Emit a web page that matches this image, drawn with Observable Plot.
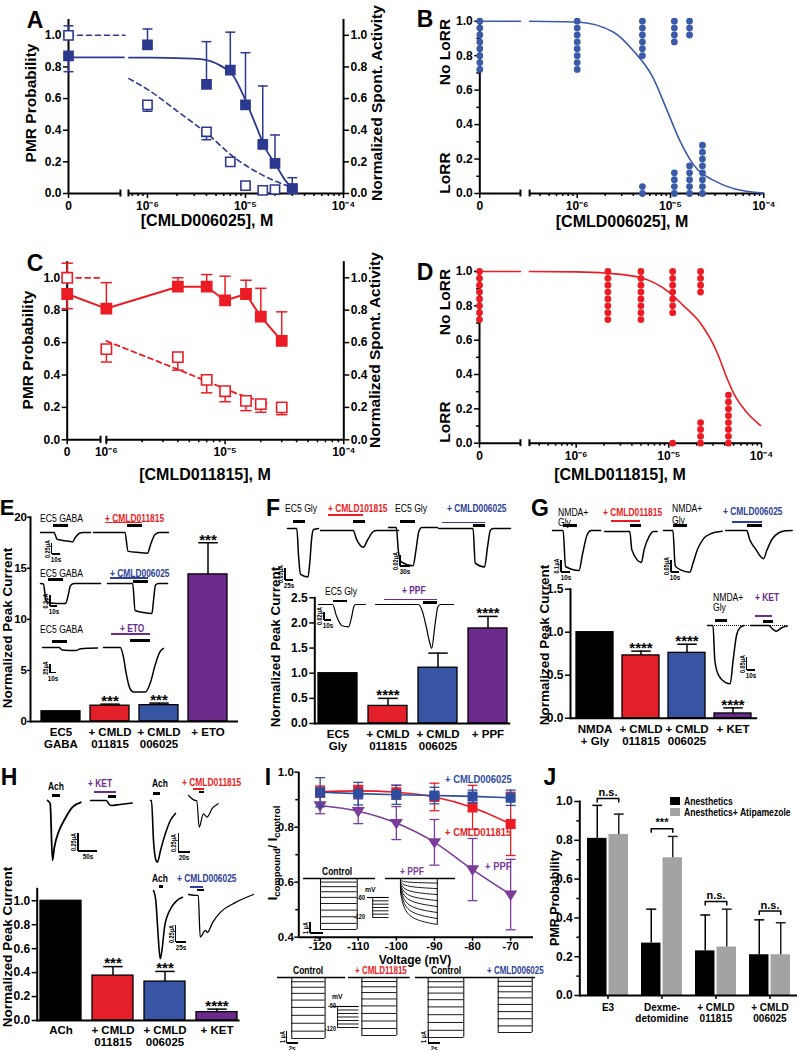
<!DOCTYPE html>
<html><head><meta charset="utf-8">
<script src="https://cdn.jsdelivr.net/npm/d3@7"></script>
<script src="https://cdn.jsdelivr.net/npm/@observablehq/plot@0.6"></script>
<style>
html,body{margin:0;padding:0;background:#fff;}
#root{position:relative;width:797px;height:1050px;overflow:hidden;background:#fff;font-family:'Liberation Sans',Arial,Helvetica,sans-serif;}
#root svg{overflow:visible;}
</style></head><body><div id="root"></div>
<script>
// ======================= DATA =======================
// Panel A (CMLD006025): PMR probability (filled) and normalized spontaneous activity (open)
const aConc = [0, 1e-6, 4e-6, 7e-6, 1e-5, 1.5e-5, 2e-5, 3e-5];
const aPMR = [0.87, 0.94, 0.69, 0.78, 0.56, 0.31, 0.19, 0.03];
const aPMRErr = [0.77, 1.04, 0.96, 1.02, 0.89, 0.68, 0.37, 0.10];
const aSpont = [1.0, 0.56, 0.39, 0.20, 0.05, 0.02, 0.025, 0.03];
const aSpontErr = [1.06, 0.52, 0.34, 0.19, null, null, null, null];
const aFitPMRTop = 0.86;
const aFitPMR = [[-6.19,0.859],[-5.8,0.858],[-5.46,0.85],[-5.26,0.81],[-5.12,0.74],[-5.0,0.59],[-4.9,0.44],[-4.8,0.29],[-4.69,0.18],[-4.59,0.08],[-4.52,0.035]];
const aFitSpontTop = 1.0;
const aFitSpont = [[-6.19,0.726],[-6.0,0.658],[-5.66,0.504],[-5.39,0.378],[-5.12,0.23],[-4.85,0.124],[-4.58,0.05]];

// Panel B (CMLD006025): individual fish, LoRR (0) / no LoRR (1), stacked
const bConc = [0, 1e-6, 5e-6, 1.1e-5, 1.6e-5, 2.2e-5];
const bFish = [
  [1,.96,.92,.88,.84,.80,.76,.72],
  [1,.96,.92,.88,.84,.80,.76,.72],
  [1,.96,.92,.88,.84,.80,0,.04],
  [1,.96,.92,.88,0,.04,.08,.12],
  [1,.96,.92,0,.04,.08,.12,.16],
  [0,.04,.08,.12,.16,.20,.24,.28]];
const bFitTop = 1.0;
const bFit = [[-6.51,1.0],[-6.0,0.995],[-5.61,0.936],[-5.40,0.83],[-5.19,0.675],[-5.05,0.5],[-4.9,0.307],[-4.76,0.172],[-4.5,0.066],[-4.32,0.027],[-4.0,0.002]];

// Panel C (CMLD011815)
const cConc = [0, 1e-6, 4e-6, 7e-6, 1e-5, 1.5e-5, 2e-5, 3e-5];
const cPMR = [0.90, 0.81, 0.945, 0.945, 0.86, 0.90, 0.76, 0.61];
const cPMRErr = [0.81, 0.97, 1.0, 1.02, 1.01, 0.985, 0.935, 0.79];
const cSpont = [1.0, 0.56, 0.51, 0.37, 0.30, 0.24, 0.22, 0.20];
const cSpontErr = [1.09, 0.48, 0.43, 0.29, 0.235, 0.18, 0.17, 0.155];
const cFitSpontTop = 1.0;
const cFitSpont = [[-6.0,0.61],[-5.4,0.435],[-5.15,0.36],[-4.9,0.285],[-4.65,0.225]];

// Panel D (CMLD011815)
const dConc = [0, 2.2e-6, 5e-6, 1.1e-5, 2.2e-5, 4.4e-5];
const dFish = [
  [1,.96,.92,.88,.84,.80,.76,.72],
  [1,.96,.92,.88,.84,.80,.76,.72],
  [1,.96,.92,.88,.84,.80,.76,.72],
  [1,.96,.92,.88,.84,.80,.76,0],
  [1,.96,.92,.88,0,.04,.08,.12],
  [0,.04,.08,.12,.16,.20,.24,.28]];
const dFitTop = 1.0;
const dFit = [[-6.504,1.0],[-6.0,0.998],[-5.67,0.99],[-5.31,0.965],[-5.0,0.88],[-4.84,0.8],[-4.66,0.70],[-4.48,0.53],[-4.37,0.375],[-4.3,0.29],[-4.16,0.18],[-4.01,0.103]];

// Panels E-H: normalized peak currents
const eLabels = ["EC5\nGABA", "+ CMLD\n011815", "+ CMLD\n006025", "+ ETO"];
const eVals = [1.0, 1.55, 1.6, 14.4];
const eErr = [null, 1.7, 1.8, 17.5];
const eStars = ["", "***", "***", "***"];
const fLabels = ["EC5\nGly", "+ CMLD\n011815", "+ CMLD\n006025", "+ PPF"];
const fVals = [1.0, 0.35, 1.11, 1.89];
const fErr = [null, 0.5, 1.40, 2.13];
const fStars = ["", "****", "", "****"];
const gLabels = ["NMDA\n+ Gly", "+ CMLD\n011815", "+ CMLD\n006025", "+ KET"];
const gVals = [1.0, 0.73, 0.76, 0.055];
const gErr = [null, 0.78, 0.86, 0.12];
const gStars = ["", "****", "****", "****"];
const hLabels = ["ACh", "+ CMLD\n011815", "+ CMLD\n006025", "+ KET"];
const hVals = [1.0, 0.375, 0.325, 0.07];
const hErr = [null, 0.45, 0.41, 0.095];
const hStars = ["", "***", "***", "****"];

// Panel I: I compound / I control vs voltage
const iV = [-120, -110, -100, -90, -80, -70];
const i006025 = [0.927, 0.922, 0.918, 0.915, 0.912, 0.907];
const i006025Err = [0.053, 0.041, 0.035, 0.030, 0.023, 0.028];
const i011815 = [0.930, 0.932, 0.927, 0.910, 0.872, 0.812];
const i011815Err = [0.02, 0.02, 0.025, 0.05, 0.08, 0.115];
const iPPF = [0.879, 0.858, 0.815, 0.745, 0.646, 0.555];
const iPPFErr = [0.03, 0.045, 0.06, 0.083, 0.113, 0.128];

// Panel J: PMR probability
const jGroups = ["E3", "Dexme-\ndetomidine", "+ CMLD\n011815", "+ CMLD\n006025"];
const jAnes = [0.81, 0.27, 0.23, 0.21];
const jAnesErr = [0.98, 0.445, 0.415, 0.39];
const jAtip = [0.83, 0.71, 0.25, 0.21];
const jAtipErr = [0.935, 0.82, 0.445, 0.375];
const jSig = ["n.s.", "***", "n.s.", "n.s."];
const jSigLevel = [1.015, 0.86, 0.485, 0.435];

// Example current traces (time fraction, depth fraction)
const trE1a = [[0,0],[0.27,0],[0.33,0.7],[0.45,0.85],[0.6,0.95],[0.64,1],[0.7,0.5],[0.78,0.08],[0.85,0],[1,0]];
const trE1b = [[0,0],[0.42,0],[0.46,0.9],[0.6,0.97],[0.72,1],[0.76,0.6],[0.82,0.1],[0.88,0],[1,0]];
const trE2a = [[0,0],[0.05,0.02],[0.09,0.85],[0.15,0.97],[0.42,1],[0.46,0.6],[0.5,0.1],[0.56,0],[1,0]];
const trE2b = [[0,0],[0.42,0],[0.46,0.9],[0.6,0.97],[0.74,1],[0.77,0.5],[0.8,0.05],[0.85,0],[1,0]];
const trE3a = [[0,0],[0.3,0],[0.36,0.8],[0.6,1],[0.7,0.4],[0.85,0.25],[1,0.2]];
const trE3b = [[0,0],[0.28,0],[0.33,0.2],[0.38,0.6],[0.44,0.92],[0.5,1],[0.7,1],[0.78,0.8],[0.86,0.4],[0.94,0.1],[1,0.02]];
const trF1a = [[0,0],[0.3,0],[0.36,0.6],[0.42,0.95],[0.66,1],[0.72,0.7],[0.78,0.2],[0.84,0.02],[1,0]];
const trF1b = [[0,0],[0.42,0],[0.46,0.5],[0.55,1],[0.6,0.6],[0.68,0.05],[0.72,0],[1,0]];
const trF1c = [[0,0],[0.16,0],[0.2,0.6],[0.26,0.9],[0.5,1],[0.56,0.6],[0.62,0.1],[0.68,0],[1,0]];
const trF1d = [[0,0],[0.48,0],[0.51,0.9],[0.64,1],[0.68,0.5],[0.72,0.05],[0.76,0],[1,0]];
const trF2a = [[0,0],[0.3,0],[0.38,0.5],[0.5,0.95],[0.64,1],[0.7,0.6],[0.76,0.05],[0.8,0],[1,0]];
const trF2b = [[0,0],[0.55,0],[0.6,0.15],[0.65,0.5],[0.7,0.9],[0.72,1],[0.76,0.5],[0.8,0.05],[0.83,0],[1,0]];
const trG1a = [[0,0],[0.22,0],[0.27,0.9],[0.55,1],[0.62,0.6],[0.72,0.1],[0.8,0],[1,0]];
const trG1b = [[0,0],[0.48,0],[0.52,0.6],[0.7,1],[0.75,0.6],[0.85,0.15],[0.93,0],[1,0]];
const trG1c = [[0,0],[0.16,0],[0.2,0.85],[0.3,0.95],[0.45,1],[0.5,0.8],[0.58,0.45],[0.68,0.2],[0.8,0.08],[1,0.02]];
const trG1d = [[0,0],[0.32,0],[0.36,0.3],[0.45,0.65],[0.57,1],[0.62,0.7],[0.7,0.3],[0.8,0.08],[0.9,0.01],[1,0]];
const trG2a = [[0,0],[0.15,0],[0.2,0.6],[0.3,0.85],[0.5,0.98],[0.62,1],[0.7,0.6],[0.8,0.15],[0.9,0.03],[1,0]];
const trG2b = [[0,0],[0.5,0],[0.6,0.6],[0.7,1],[0.85,0.4],[1,0.1]];
const trH1a = [[0,0],[0.08,0.05],[0.15,1],[0.2,0.8],[0.35,0.5],[0.5,0.33],[0.75,0.11],[1,0.03]];
const trH1b = [[0,0],[0.38,0],[0.45,0.8],[0.5,1],[0.7,0.8],[1,0.5]];
const trH2a = [[0,0],[0.04,0],[0.12,0.65],[0.22,0.97],[0.28,1],[0.4,0.81],[0.6,0.53],[0.8,0.32],[1,0.21]];
const trH2b = [[0,0],[0.25,0.16],[0.28,0.16],[0.36,1],[0.5,0.58],[0.62,0.68],[0.8,0.41],[1,0.26]];
const trH3a = [[0,0],[0.08,0.15],[0.15,0.59],[0.23,1],[0.29,0.88],[0.39,0.51],[0.6,0.26],[0.8,0.15],[1,0.1]];
const trH3b = [[0,0],[0.13,0.02],[0.15,0.02],[0.18,1],[0.26,0.84],[0.29,0.89],[0.37,0.66],[0.49,0.42],[0.72,0.19],[1,0]];
const famLevels = [0.07,0.16,0.26,0.37,0.49,0.62,0.75,0.88,1.0];
const famPPFStart = [0.04,0.07,0.1,0.13,0.17,0.21,0.25,0.3];
const famPPFMid = [0.08,0.17,0.27,0.37,0.47,0.58,0.69,0.8];
const famPPFEnd = [0.1,0.22,0.35,0.48,0.61,0.74,0.87,1.0];
const protoSteps = [-60,-70,-80,-90,-100,-110,-120];

// ======================= HELPERS =======================
const FONT = "'Liberation Sans',Arial,Helvetica,sans-serif";
const COL = {navy:"#2b3a8f", dotBlue:"#3b5ba8", red:"#ec1c24", purple:"#6a2c8e", barRed:"#e3202a",
  barBlue:"#3854a4", barPurple:"#6b2a8c", gray:"#a3a3a3", iBlue:"#2e4d9f", iPurple:"#7b3c9c", txtBlue:"#2e3f96"};
const root = document.getElementById("root");
const STYLE = {fontFamily: FONT, fontSize: "12px", background: "transparent", overflow: "visible"};
const capSym = {draw(ctx, size){ const s = Math.sqrt(size)/2; ctx.moveTo(-s,0); ctx.lineTo(s,0); }};
const triDown = {draw(ctx, size){ const r = Math.sqrt(size/Math.PI)*1.1; ctx.moveTo(-r,-r*0.65); ctx.lineTo(r,-r*0.65); ctx.lineTo(0,r*0.95); ctx.closePath(); }};

function put(node, x, y){ node.style.position="absolute"; node.style.left=x+"px"; node.style.top=y+"px"; node.style.maxWidth="none"; root.appendChild(node); return node; }
function txt(s, x, y, o = {}){
  const d = document.createElement("div");
  if (o.html) d.innerHTML = s; else d.textContent = s;
  const a = o.anchor || "start";
  const tx = a === "start" ? "0" : a === "middle" ? "-50%" : "-100%";
  const sx = o.narrow ? ` scaleX(${o.narrow})` : "";
  Object.assign(d.style, {position:"absolute", left:x+"px", top:y+"px", fontSize:(o.size||11)+"px",
    fontWeight:o.weight||"bold", color:o.color||"#000", whiteSpace:"pre", lineHeight:"1", fontFamily:FONT});
  if (o.rotate) {
    d.style.transform = `translate(-50%,-50%) rotate(${o.rotate}deg)` + sx;
    d.style.transformOrigin = "50% 50%";
  } else {
    d.style.transform = `translate(${tx},-50%)` + sx;
    d.style.transformOrigin = a === "start" ? "0 0" : a === "middle" ? "50% 0" : "100% 0";
  }
  root.appendChild(d); return d;
}
function hl(x1, x2, y, color = "#000", t = 1.5, style){
  const d = document.createElement("div");
  Object.assign(d.style, {position:"absolute", left:x1+"px", top:(y-t/2)+"px", width:(x2-x1)+"px", height:t+"px", background:color});
  if (style === "dotted") { d.style.background = "none"; d.style.borderTop = `1px dotted ${color}`; d.style.height = "0"; }
  root.appendChild(d);
}
function vl(x, y1, y2, color = "#000", t = 1.2){
  const d = document.createElement("div");
  Object.assign(d.style, {position:"absolute", left:(x-t/2)+"px", top:y1+"px", width:t+"px", height:(y2-y1)+"px", background:color});
  root.appendChild(d);
}
function sbar(x, y1, y2, x2, vLab, hLab){
  vl(x, y1, y2); hl(x, x2, y2, "#000", 1.2);
  txt(vLab, x-4, (y1+y2)/2, {size:6.5, rotate:-90, narrow:0.85});
  txt(hLab, (x+x2)/2, y2+5, {size:7, anchor:"middle", narrow:0.9});
}
function trace(pts, x, y, w, h, color = "#000", sw = 1.5){
  const p = Plot.plot({width:w+6, height:h+6, marginTop:3, marginBottom:3, marginLeft:3, marginRight:3,
    x:{domain:[0,1], axis:null}, y:{domain:[0,1], range:[3,h+3], axis:null}, style:STYLE,
    marks:[Plot.line(pts, {x:d=>d[0], y:d=>d[1], stroke:color, strokeWidth:sw, curve:"monotone-x"})]});
  put(p, x-3, y-3);
}
function stepFamily(levels, x, y, w, h, t0, t1){
  const mx = d3.max(levels);
  const p = Plot.plot({width:w+6, height:h+6, margin:3,
    x:{domain:[0,1], axis:null}, y:{domain:[0,1], range:[3,h+3], axis:null}, style:STYLE,
    marks:[
      Plot.ruleY([0], {x1:0, x2:1, strokeWidth:1.3}),
      Plot.ruleX([t0], {y1:0, y2:mx, strokeWidth:1}),
      Plot.ruleX([t1], {y1:0, y2:mx, strokeWidth:1}),
      Plot.ruleY(levels, {y:d=>d, x1:t0, x2:t1, strokeWidth:0.9})
    ]});
  put(p, x-3, y-3);
}
function curveFamily(s, m, e, x, y, w, h, t0, t1){
  const tm = t0 + 0.25*(t1-t0);
  const rows = [];
  s.forEach((v,i) => rows.push({z:i, t:t0, v:s[i]}, {z:i, t:tm, v:m[i]}, {z:i, t:t1, v:e[i]}));
  const p = Plot.plot({width:w+6, height:h+6, margin:3,
    x:{domain:[0,1], axis:null}, y:{domain:[0,1], range:[3,h+3], axis:null}, style:STYLE,
    marks:[
      Plot.ruleY([0], {x1:0, x2:1, strokeWidth:1.3}),
      Plot.ruleX([t0], {y1:0, y2:d3.max(s), strokeWidth:1}),
      Plot.ruleX([t1], {y1:0, y2:d3.max(e), strokeWidth:1}),
      Plot.line(rows, {x:"t", y:"v", z:"z", curve:"natural", strokeWidth:0.9})
    ]});
  put(p, x-3, y-3);
}
function protocol(steps, x, y, w, h, xs){
  const p = Plot.plot({width:w+6, height:h+6, margin:3,
    x:{domain:[0,1], axis:null}, y:{domain:[steps[0], steps[steps.length-1]], range:[3,h+3], axis:null}, style:STYLE,
    marks:[
      Plot.ruleY(steps, {y:d=>d, x1:xs, x2:1, strokeWidth:0.9}),
      Plot.ruleY([steps[0]], {x1:0, x2:1, strokeWidth:1.1}),
      Plot.ruleX([xs], {y1:steps[0], y2:steps[steps.length-1], strokeWidth:0.9})
    ]});
  put(p, x-3, y-3);
}

// Dose-response panels with broken log axis
function dose(o){
  const X = c => c === 0 ? o.zero : Math.log10(c);
  const SUP = {"-6":"⁻⁶", "-5":"⁻⁵", "-4":"⁻⁴"};
  const minor = [];
  for (let e = -7; e < -4; e++) for (let k = 2; k < 10; k++) { const v = e + Math.log10(k); if (v > o.brkR + 0.02 && v < -4) minor.push(v); }
  const ax = {fontSize:12, fontWeight:"bold", label:null, strokeWidth:1.5};
  const marks = [
    Plot.ruleX([o.zero], {y1:0, y2:o.yTop, strokeWidth:2}),
    Plot.ruleY([[o.zero, o.brkL], [o.brkR, -4]], {x1:d=>d[0], x2:d=>d[1], y:()=>0, strokeWidth:2}),
    Plot.ruleX([o.brkL, o.brkR], {y1:-o.bt, y2:o.bt, strokeWidth:2}),
    Plot.axisY({...ax, anchor:"left", ticks:o.yTicks, tickFormat:d3.format(".1f"), tickSize:5, tickPadding:2}),
    Plot.axisX({...ax, anchor:"bottom", ticks:[o.zero, -6, -5, -4], tickFormat:d => d === o.zero ? "0" : "10" + SUP[d], tickSize:5, tickPadding:3}),
    Plot.axisX({...ax, anchor:"bottom", ticks:minor, tickSize:3, tickFormat:() => ""})
  ];
  if (o.yMinor) marks.push(Plot.axisY({...ax, anchor:"left", ticks:o.yMinor, tickSize:3, tickFormat:() => ""}));
  if (o.right) marks.push(
    Plot.ruleX([-4], {y1:0, y2:o.yTop, strokeWidth:2}),
    Plot.axisY({...ax, anchor:"right", ticks:o.yTicks, tickFormat:d3.format(".1f"), tickSize:5, tickPadding:2}));
  marks.push(...o.marks(X));
  const p = Plot.plot({width:o.w, height:o.h, marginLeft:o.ml, marginRight:o.mr, marginTop:o.mt, marginBottom:o.mb,
    x:{type:"linear", domain:[o.zero, -4]}, y:{domain:[0, o.yTop]}, style:STYLE, marks});
  put(p, o.left, o.top);
}

function pmrMarks(X, conc, pmr, pmrErr, spont, spontErr, color, sq, capR){
  const rows = conc.map((c,i) => ({x:X(c), p:pmr[i], pe:pmrErr[i], s:spont[i], se:spontErr[i]}));
  const se = rows.filter(r => r.se != null);
  return [
    Plot.ruleX(rows, {x:"x", y1:"p", y2:"pe", stroke:color, strokeWidth:1.5}),
    Plot.dot(rows, {x:"x", y:"pe", symbol:capSym, r:capR, stroke:color, strokeWidth:1.5}),
    Plot.ruleX(se, {x:"x", y1:"s", y2:"se", stroke:color, strokeWidth:1.5}),
    Plot.dot(se, {x:"x", y:"se", symbol:capSym, r:capR, stroke:color, strokeWidth:1.5}),
    Plot.dot(rows, {x:"x", y:"s", symbol:"square", r:sq, fill:"white", stroke:color, strokeWidth:1.6}),
    Plot.dot(rows, {x:"x", y:"p", symbol:"square", r:sq, fill:color, stroke:color})
  ];
}
function fishMarks(X, conc, fish, color){
  const pts = [];
  conc.forEach((c,i) => fish[i].forEach(v => pts.push({x:X(c), y:v})));
  return Plot.dot(pts, {x:"x", y:"y", r:3.4, fill:color});
}

// Bar panels
function bars(o){
  const data = o.labels.map((l,i) => ({l, v:o.vals[i], e:o.errs[i], s:o.stars[i], c:o.colors[i]}));
  const E = data.filter(d => d.e != null);
  const p = Plot.plot({width:o.w, height:o.h, marginLeft:o.ml, marginRight:o.mr, marginTop:o.mt, marginBottom:o.mb,
    x:{domain:o.labels, paddingInner:o.pi, paddingOuter:o.po, align:0.5},
    y:{domain:o.yDomain}, color:{type:"identity"}, style:STYLE,
    marks:[
      Plot.barY(data, {x:"l", y:"v", fill:d => d.c, stroke:"#000", strokeWidth:1.3}),
      Plot.ruleX(E, {x:"l", y1:"v", y2:"e", strokeWidth:1.5}),
      Plot.dot(E, {x:"l", y:"e", symbol:capSym, r:11, stroke:"#000", strokeWidth:1.5}),
      Plot.text(data.filter(d => d.s), {x:"l", y:d => d.e ?? d.v, text:"s", dy:-3, fontSize:15, fontWeight:"bold"}),
      Plot.ruleY([0], {strokeWidth:2}),
      Plot.frame({anchor:"left", strokeWidth:2}),
      Plot.axisY({anchor:"left", ticks:o.yTicks, tickFormat:o.fmt, tickSize:o.ts ?? 5, tickPadding:o.tpad ?? 2, fontSize:o.yfs ?? 12, fontWeight:"bold", label:null, strokeWidth:1.5}),
      Plot.axisX({anchor:"bottom", tickSize:0, tickPadding:o.tp || 6, fontSize:11.5, fontWeight:"bold", label:null, lineHeight:1.05})
    ]});
  put(p, o.left, o.top);
}
const barColors = ["#000000", COL.barRed, COL.barBlue, COL.barPurple];
const f1 = d3.format(".1f");

// ======================= PANELS =======================
// A
dose({left:0, top:0, w:400, h:250, ml:68, mr:57, mt:19, mb:57, zero:-6.806, brkL:-6.276, brkR:-6.194, bt:0.022,
  yTop:1.1, yTicks:[0,.2,.4,.6,.8,1], right:true,
  marks: X => [
    Plot.line([[-6.806, aFitPMRTop], [-6.24, aFitPMRTop]], {x:d=>d[0], y:d=>d[1], stroke:COL.navy, strokeWidth:1.8}),
    Plot.line(aFitPMR, {x:d=>d[0], y:d=>d[1], stroke:COL.navy, strokeWidth:1.8, curve:"monotone-x"}),
    Plot.line([[-6.806, aFitSpontTop], [-6.23, aFitSpontTop]], {x:d=>d[0], y:d=>d[1], stroke:COL.navy, strokeWidth:1.6, strokeDasharray:"5,4"}),
    Plot.line(aFitSpont, {x:d=>d[0], y:d=>d[1], stroke:COL.navy, strokeWidth:1.6, strokeDasharray:"5,4", curve:"monotone-x"}),
    ...pmrMarks(X, aConc, aPMR, aPMRErr, aSpont, aSpontErr, COL.navy, 5.2, 5.6)
  ]});
// B
dose({left:400, top:0, w:397, h:250, ml:79.3, mr:33.7, mt:20.7, mb:57, zero:-7.044, brkL:-6.608, brkR:-6.51, bt:0.02,
  yTop:1.0, yTicks:[0,.2,.4,.6,.8,1], yMinor:[.1,.3,.5,.7,.9], right:false,
  marks: X => [
    Plot.line([[-7.044, bFitTop], [-6.608, bFitTop]], {x:d=>d[0], y:d=>d[1], stroke:COL.dotBlue, strokeWidth:1.6}),
    Plot.line(bFit, {x:d=>d[0], y:d=>d[1], stroke:COL.dotBlue, strokeWidth:1.6, curve:"monotone-x"}),
    fishMarks(X, bConc, bFish, COL.dotBlue)
  ]});
// C
dose({left:0, top:250, w:400, h:250, ml:66.7, mr:56.7, mt:11.1, mb:60.7, zero:-6.33, brkL:-6.049, brkR:-6.0, bt:0.022,
  yTop:1.1, yTicks:[0,.2,.4,.6,.8,1], right:true,
  marks: X => [
    Plot.line(cConc.map((c,i) => [X(c), cPMR[i]]), {x:d=>d[0], y:d=>d[1], stroke:COL.red, strokeWidth:2}),
    Plot.line([[-6.33, cFitSpontTop], [-6.06, cFitSpontTop]], {x:d=>d[0], y:d=>d[1], stroke:COL.red, strokeWidth:1.8, strokeDasharray:"5,4"}),
    Plot.line(cFitSpont, {x:d=>d[0], y:d=>d[1], stroke:COL.red, strokeWidth:1.8, strokeDasharray:"5,4"}),
    ...pmrMarks(X, cConc, cPMR, cPMRErr, cSpont, cSpontErr, COL.red, 5.8, 6.4)
  ]});
// D
dose({left:400, top:250, w:397, h:250, ml:79, mr:36, mt:21, mb:57.3, zero:-7.043, brkL:-6.601, brkR:-6.504, bt:0.02,
  yTop:1.0, yTicks:[0,.2,.4,.6,.8,1], yMinor:[.1,.3,.5,.7,.9], right:false,
  marks: X => [
    Plot.line([[-7.043, dFitTop], [-6.601, dFitTop]], {x:d=>d[0], y:d=>d[1], stroke:COL.red, strokeWidth:1.6}),
    Plot.line(dFit, {x:d=>d[0], y:d=>d[1], stroke:COL.red, strokeWidth:1.6, curve:"monotone-x"}),
    fishMarks(X, dConc, dFish, COL.red)
  ]});

// E-H
bars({left:0, top:500, w:265, h:280, ml:30, mr:27, mt:16.7, mb:59, labels:eLabels, vals:eVals, errs:eErr, stars:eStars,
  colors:barColors, yDomain:[0,20], yTicks:[0,5,10,15,20], fmt:d=>String(d), pi:0.2, po:0.2, ts:3, tpad:0.5, yfs:11.5});
bars({left:265, top:500, w:265, h:260, ml:49.3, mr:19.7, mt:97.3, mb:37, labels:fLabels, vals:fVals, errs:fErr, stars:fStars,
  colors:barColors, yDomain:[0,2.5], yTicks:[0,.5,1,1.5,2,2.5], fmt:f1, pi:0.22, po:0.07});
bars({left:530, top:500, w:267, h:260, ml:40, mr:39.8, mt:88.7, mb:42.3, labels:gLabels, vals:gVals, errs:gErr, stars:gStars,
  colors:barColors, yDomain:[0,1.5], yTicks:[0,.5,1,1.5], fmt:f1, pi:0.2, po:0.1});
bars({left:0, top:760, w:265, h:290, ml:36.7, mr:25.4, mt:128.3, mb:30, labels:hLabels, vals:hVals, errs:hErr, stars:hStars,
  colors:barColors, yDomain:[0,1.1], yTicks:[0,.2,.4,.6,.8,1], fmt:f1, pi:0.22, po:0.05, tp:5});

// I
(function(){
  const rows = [];
  iV.forEach((v,i) => {
    rows.push({s:"b", v, y:i006025[i], e:i006025Err[i]});
    rows.push({s:"r", v, y:i011815[i], e:i011815Err[i]});
    rows.push({s:"p", v, y:iPPF[i], e:iPPFErr[i]});
  });
  const colorOf = {b:COL.iBlue, r:COL.red, p:COL.iPurple};
  const marks = [
    Plot.ruleY([0.4], {strokeWidth:2}),
    Plot.ruleX([-125.6], {y1:0.4, y2:1.0, strokeWidth:2}),
    Plot.axisY({anchor:"left", ticks:[0.4,0.6,0.8,1.0], tickFormat:f1, tickSize:4, tickPadding:1, fontSize:11.5, fontWeight:"bold", label:null, strokeWidth:1.5}),
    Plot.axisY({anchor:"left", ticks:[0.5,0.7,0.9], tickSize:3, tickFormat:() => "", label:null, strokeWidth:1.5}),
    Plot.axisX({anchor:"bottom", ticks:iV, tickFormat:d => String(d), tickSize:4, tickPadding:1, fontSize:11.5, fontWeight:"bold", label:null, strokeWidth:1.5})
  ];
  for (const k of ["p","r","b"]) {
    const d = rows.filter(r => r.s === k), c = colorOf[k];
    marks.push(
      Plot.ruleX(d, {x:"v", y1:r => r.y - r.e, y2:r => r.y + r.e, stroke:c, strokeWidth:1.3}),
      Plot.dot(d, {x:"v", y:r => r.y - r.e, symbol:capSym, r:5.6, stroke:c, strokeWidth:1.3}),
      Plot.dot(d, {x:"v", y:r => r.y + r.e, symbol:capSym, r:5.6, stroke:c, strokeWidth:1.3}),
      Plot.line(d, {x:"v", y:"y", stroke:c, strokeWidth:1.6, curve:"monotone-x"}),
      Plot.dot(d, {x:"v", y:"y", symbol:k === "p" ? triDown : "square", r:4.8, fill:c, stroke:c})
    );
  }
  const p = Plot.plot({width:270, height:210, marginLeft:33.3, marginRight:2, marginTop:11.7, marginBottom:33.3,
    x:{domain:[-125.6,-64]}, y:{domain:[0.4,1.0]}, style:STYLE, marks});
  put(p, 265, 760);
})();

// J
(function(){
  const w = 267, ml = 49.3, pi = 0.243, po = 0.13;
  const band = d3.scaleBand().domain(jGroups).range([ml, w]).paddingInner(pi).paddingOuter(po);
  const bw = band.bandwidth(), q = bw/4 + 0.5;
  const data = jGroups.map((g,i) => ({g, a:jAnes[i], ae:jAnesErr[i], b:jAtip[i], be:jAtipErr[i], s:jSig[i], sy:jSigLevel[i]}));
  const brk = {draw(ctx, size){ const hw = Math.sqrt(size)/2; ctx.moveTo(-hw,4); ctx.lineTo(-hw,0); ctx.lineTo(hw,0); ctx.lineTo(hw,4); }};
  const p = Plot.plot({width:w, height:290, marginLeft:ml, marginRight:0, marginTop:41, marginBottom:55,
    x:{domain:jGroups, paddingInner:pi, paddingOuter:po, align:0.5}, y:{domain:[0,1.0]}, style:STYLE,
    marks:[
      Plot.barY(data, {x:"g", y:"a", fill:"#000", insetRight:bw/2 + 1}),
      Plot.barY(data, {x:"g", y:"b", fill:COL.gray, insetLeft:bw/2 + 1}),
      Plot.ruleX(data, {x:"g", y1:"a", y2:"ae", dx:-q, strokeWidth:1.5}),
      Plot.dot(data, {x:"g", y:"ae", dx:-q, symbol:capSym, r:5.6, stroke:"#000", strokeWidth:1.5}),
      Plot.ruleX(data, {x:"g", y1:"b", y2:"be", dx:q, stroke:"#222", strokeWidth:1.5}),
      Plot.dot(data, {x:"g", y:"be", dx:q, symbol:capSym, r:5.6, stroke:"#222", strokeWidth:1.5}),
      Plot.dot(data, {x:"g", y:"sy", symbol:brk, r:2*q/Math.sqrt(Math.PI), stroke:"#000", strokeWidth:1.5}),
      Plot.text(data, {x:"g", y:"sy", text:"s", dy:-6, fontSize:11, fontWeight:"bold"}),
      Plot.ruleY([0], {strokeWidth:2}),
      Plot.frame({anchor:"left", strokeWidth:2}),
      Plot.axisY({anchor:"left", ticks:[0,.2,.4,.6,.8,1], tickFormat:f1, tickSize:5, tickPadding:2, fontSize:12, fontWeight:"bold", label:null, strokeWidth:1.5}),
      Plot.axisY({anchor:"left", ticks:[.1,.3,.5,.7,.9], tickSize:3, tickFormat:() => "", label:null, strokeWidth:1.5}),
      Plot.axisX({anchor:"bottom", tickSize:4, tickPadding:3, fontSize:10, fontWeight:"bold", label:null, lineHeight:1.15, strokeWidth:1.5})
    ]});
  put(p, 530, 760);
})();

// ======================= TEXT / ANNOTATIONS =======================
const L = 23;
txt("A", 35, 20, {size:L, anchor:"middle"});
txt("B", 425, 19, {size:L, anchor:"middle"});
txt("C", 35, 263, {size:L, anchor:"middle"});
txt("D", 425, 272, {size:L, anchor:"middle"});
txt("E", 7, 508, {size:22, anchor:"middle"});
txt("F", 273, 508, {size:L, anchor:"middle"});
txt("G", 540, 508, {size:L, anchor:"middle"});
txt("H", 9, 777, {size:L, anchor:"middle"});
txt("I", 268, 777, {size:L, anchor:"middle"});
txt("J", 550, 777, {size:L, anchor:"middle"});

txt("PMR Probability", 31, 103, {size:15.5, rotate:-90});
txt("Normalized Spont. Activity", 377, 103, {size:15.5, rotate:-90});
txt("[CMLD006025], M", 207, 221, {size:16, anchor:"middle"});
txt("No LoRR", 445, 52, {size:15.5, rotate:-90});
txt("LoRR", 445, 173, {size:15.5, rotate:-90});
txt("[CMLD006025], M", 622, 222, {size:16, anchor:"middle"});
txt("PMR Probability", 28, 350, {size:15.5, rotate:-90});
txt("Normalized Spont. Activity", 375, 350, {size:15.5, rotate:-90});
txt("[CMLD011815], M", 205, 475, {size:16, anchor:"middle"});
txt("No LoRR", 445, 302, {size:15.5, rotate:-90});
txt("LoRR", 445, 422, {size:15.5, rotate:-90});
txt("[CMLD011815], M", 620, 475, {size:16, anchor:"middle"});

txt("Normalized Peak Current", 8, 628, {size:13.5, rotate:-90});
txt("Normalized Peak Current", 276, 647, {size:13.5, rotate:-90});
txt("Normalized Peak Current", 545, 645, {size:13.5, rotate:-90});
txt("Normalized Peak Current", 8, 947, {size:13.5, rotate:-90});
txt("I<sub style='font-size:9.5px'>compound</sub>/ I<sub style='font-size:9.5px'>control</sub>", 274, 853, {size:12.5, rotate:-90, html:true});
txt("Voltage (mV)", 415, 960, {size:12, anchor:"middle"});
txt("PMR Probability", 555, 898, {size:12.5, rotate:-90});

// I series labels
txt("+ CMLD006025", 445, 780, {size:11.5, color:COL.iBlue, narrow:0.82});
txt("+ CMLD011815", 445, 833, {size:11.5, color:COL.red, narrow:0.82});
txt("+ PPF", 485, 867, {size:11.5, color:COL.iPurple, narrow:0.82});

// J legend
(function(){
  const sq = (x, y, c) => { const d = document.createElement("div"); Object.assign(d.style, {position:"absolute", left:x+"px", top:y+"px", width:"10px", height:"8px", background:c}); root.appendChild(d); };
  sq(670, 797, "#000"); sq(670, 808, COL.gray);
  txt("Anesthetics", 684, 801, {size:10.5, narrow:0.82});
  txt("Anesthetics+ Atipamezole", 684, 812, {size:10.5, narrow:0.82});
})();

const LS = {size:10.5, weight:"normal", narrow:0.82};
const LB = c => ({size:10.5, weight:"bold", narrow:0.8, color:c});

// ---- E insets ----
txt("EC5 GABA", 40, 518, LS); hl(52.7, 68.3, 525, "#000", 3);
txt("+ CMLD011815", 105, 518, LB(COL.red)); hl(105, 142, 522.5, COL.red, 1.5); hl(126.7, 141.7, 525.5, "#000", 3);
trace(trE1a, 40, 532.3, 50, 9.4); trace(trE1b, 93, 532.3, 75, 20.7);
sbar(51.7, 543, 554, 60, "0.25μA", "10s");
txt("EC5 GABA", 40, 573, LS); hl(48.3, 63.3, 579, "#000", 3);
txt("+ CMLD006025", 110, 573, LB(COL.txtBlue)); hl(110, 148, 578, COL.txtBlue, 1.5); hl(133.3, 148.3, 581, "#000", 3);
trace(trE2a, 40, 583.3, 60, 20); trace(trE2b, 107, 583.3, 60, 30);
sbar(50, 595, 606, 57, "0.2μA", "10s");
txt("EC5 GABA", 40, 629, LS); hl(51.7, 66.7, 641, "#000", 3);
txt("+ ETO", 120, 628, LB(COL.purple)); hl(111, 150, 634.3, COL.purple, 1.8); hl(130, 150, 640, "#000", 3);
trace(trE3a, 41.7, 647.3, 55, 3); trace(trE3b, 103.3, 647.3, 60, 44.4);
sbar(50, 664, 672.7, 56, "25μA", "10s");

// ---- F insets ----
txt("EC5 Gly", 285, 508, LS); hl(293, 305, 521, "#000", 3);
txt("+ CMLD101815", 328, 508, LB(COL.red)); hl(328, 363, 515, COL.red, 1.5); hl(353, 365, 521, "#000", 3);
trace(trF1a, 286.7, 528.3, 31, 48.4); trace(trF1b, 320, 530, 78, 16.7);
sbar(285, 568, 580, 293, "0.05μA", "25s");
txt("EC5 Gly", 395, 508, LS); hl(400, 415, 521, "#000", 3);
txt("+ CMLD006025", 446.7, 508, LB(COL.txtBlue)); hl(441.7, 485, 522.7, COL.txtBlue, 1.5); hl(472.7, 485, 525.5, "#000", 3);
trace(trF1c, 388, 526.7, 49, 38.3); trace(trF1d, 438, 528.3, 72, 38.4);
sbar(400, 555, 566, 410, "0.02μA", "30s");
txt("EC5 Gly", 325, 591, LS); hl(333, 347, 601, "#000", 2.5);
txt("+ PPF", 401.7, 590, LB(COL.purple)); hl(384.3, 436.7, 599.5, COL.purple, 1.5); hl(423, 437, 602.5, "#000", 2.5);
trace(trF2a, 317.7, 604.3, 47, 22.4, "#000", 1.2); trace(trF2b, 375, 604.3, 78, 44, "#000", 1.2);
sbar(324, 612, 620, 331, "0.02μA", "10s");

// ---- G insets ----
txt("NMDA+", 558, 511.7, LS); txt("Gly", 558, 521.7, LS); hl(563, 577, 525.5, "#000", 3);
txt("+ CMLD011815", 603, 511.7, LB(COL.red)); hl(610.7, 640, 521, COL.red, 1.8); hl(630, 640.7, 525, "#000", 3);
txt("NMDA+", 671.7, 508.3, LS); txt("Gly", 671.7, 520, LS); hl(673, 686.7, 525, "#000", 3);
txt("+ CMLD006025", 723, 511, LB(COL.txtBlue)); hl(731.7, 761.7, 521.7, COL.txtBlue, 1.8); hl(746.7, 761.7, 525, "#000", 3);
trace(trG1a, 551.7, 530, 48.3, 40); trace(trG1b, 604, 530.7, 52.7, 31);
trace(trG1c, 663, 530, 58.7, 41.7); trace(trG1d, 725, 530, 66.7, 28.3);
sbar(561, 560, 572, 570, "0.1μA", "10s");
sbar(671, 560, 572, 679, "0.05μA", "10s");
txt("NMDA+", 713, 596.7, LS); txt("Gly", 713, 606.7, LS); hl(715, 726.7, 620, "#000", 3);
txt("+ KET", 755, 596.7, LB(COL.purple)); hl(755, 771.7, 616, COL.purple, 1.8); hl(763, 773, 621.7, "#000", 2.5);
hl(710, 786.7, 625, "#000", 1, "dotted");
trace(trG2a, 706.7, 625, 36.6, 58.3); trace(trG2b, 750, 625, 36.7, 5.7);
sbar(746.7, 657, 670, 755, "0.05μA", "10s");

// ---- H insets ----
txt("Ach", 48, 786, LB("#000")); hl(51.7, 60, 795, "#000", 3);
txt("+ KET", 88, 782.7, LB(COL.purple)); hl(94.3, 115.7, 791.7, COL.purple, 2); hl(108, 116, 796.7, "#000", 3);
trace(trH1a, 46.7, 800, 33.3, 60, "#000", 1.8); trace(trH1b, 90, 800, 41.7, 5, "#000", 1.6);
sbar(78, 833, 851, 97, "0.25μA", "50s");
txt("Ach", 152, 783.3, LB("#000")); hl(153, 160, 793.3, "#000", 3);
txt("+ CMLD011815", 181.7, 781.7, LB(COL.red)); hl(192.7, 204, 789.3, COL.red, 1.8); hl(199, 204, 792, "#000", 2.5);
trace(trH2a, 150, 800, 25, 61.7, "#000", 1.6); trace(trH2b, 188.3, 795, 29.7, 31.7, "#000", 1.2);
sbar(178.3, 833, 852, 190, "0.25μA", "20s");
txt("Ach", 152, 878.3, LB("#000")); hl(159.3, 163.3, 886.7, "#000", 3);
txt("+ CMLD006025", 176.7, 878.3, LB(COL.txtBlue)); hl(190, 203.3, 887.3, COL.txtBlue, 1.8); hl(196.7, 204, 890, "#000", 2.5);
trace(trH3a, 152.7, 890, 29, 68.3, "#000", 1.6); trace(trH3b, 188.3, 894, 65, 42.7, "#000", 1.3);
sbar(175.7, 925, 942, 186, "0.25μA", "25s");

// ---- I insets ----
txt("Control", 321.7, 871.7, {size:10, weight:"bold", narrow:0.85});
txt("+ PPF", 400, 871.7, {size:10, weight:"bold", narrow:0.85, color:COL.iPurple});
stepFamily(famLevels, 303, 878.3, 72, 51, 0.236, 0.746);
curveFamily(famPPFStart, famPPFMid, famPPFEnd, 385, 878.3, 70, 46, 0.214, 0.74);
protocol(protoSteps, 366.7, 897.3, 21.6, 20, 0.24);
txt("mV", 365, 889.5, {size:8, narrow:0.85});
txt("-60", 365, 898, {size:6.5, narrow:0.85, anchor:"end"});
txt("-120", 365, 917.3, {size:6.5, narrow:0.85, anchor:"end"});
sbar(310, 922, 933, 323, "1 μA", "2s");

txt("Control", 293, 971, {size:10, weight:"bold", narrow:0.85});
txt("+ CMLD11815", 355, 971, {size:10, weight:"bold", narrow:0.8, color:COL.red});
txt("Control", 431, 971, {size:10, weight:"bold", narrow:0.85});
txt("+ CMLD006025", 486.7, 971, {size:10, weight:"bold", narrow:0.8, color:COL.txtBlue});
stepFamily(famLevels, 276.7, 976.7, 68.3, 61, 0.209, 0.697);
stepFamily(famLevels, 348.3, 976.7, 61.7, 58, 0.217, 0.784);
stepFamily(famLevels, 415, 976.7, 70, 60, 0.181, 0.69);
stepFamily(famLevels, 485, 976.7, 50, 55, 0.254, 0.934);
protocol(protoSteps, 331.7, 1005.7, 26.6, 21, 0.19);
txt("mV", 331.7, 997, {size:8, narrow:0.85});
txt("-60", 336, 1005.7, {size:6.5, narrow:0.85, anchor:"end"});
txt("-120", 336, 1029, {size:6.5, narrow:0.85, anchor:"end"});
sbar(286.7, 1031, 1043, 298, "1 μA", "2s");
sbar(428.3, 1031, 1043, 440, "1 μA", "2s");
</script></body></html>
